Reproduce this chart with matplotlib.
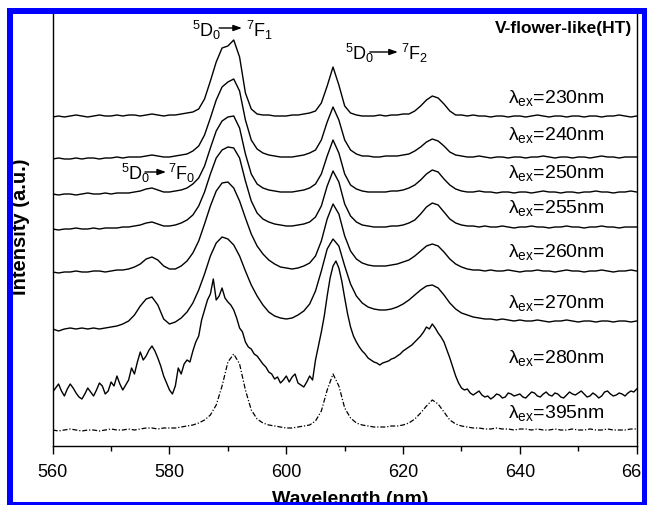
import matplotlib
matplotlib.use("Agg")
import matplotlib.pyplot as plt
from matplotlib.patches import Rectangle
from matplotlib.ticker import MultipleLocator

plt.rcParams['font.family'] = ['Liberation Sans', 'DejaVu Sans']
plt.rcParams['mathtext.fontset'] = 'custom'
plt.rcParams['mathtext.rm'] = 'Liberation Sans'
plt.rcParams['mathtext.it'] = 'Liberation Sans:italic'
plt.rcParams['mathtext.bf'] = 'Liberation Sans:bold'

# Emission spectra (a.u., stacked) sampled every 1 nm from 560 to 660 nm
wavelength = list(range(560, 661))

ex230 = [329, 330, 329, 330, 331, 330, 329, 330, 331, 330, 330, 331, 330, 331, 331, 330, 331, 332, 331, 330,
         331, 331, 332, 333, 334, 337, 347, 365, 384, 398, 400, 406, 389, 353, 337, 332, 331, 331, 330, 330,
         330, 331, 331, 332, 333, 335, 343, 360, 379, 361, 340, 333, 331, 330, 330, 330, 331, 330, 331, 331,
         332, 332, 335, 340, 346, 350, 348, 342, 335, 331, 331, 330, 331, 330, 330, 329, 330, 330, 329, 330,
         330, 329, 330, 331, 330, 329, 330, 330, 329, 330, 330, 329, 330, 330, 329, 330, 330, 331, 330, 329, 330]

ex240 = [287, 288, 287, 287, 288, 287, 288, 288, 287, 288, 288, 289, 288, 289, 289, 289, 290, 291, 290, 289,
         289, 290, 291, 292, 295, 300, 311, 328, 346, 359, 364, 367, 355, 326, 306, 297, 293, 291, 290, 289,
         289, 289, 290, 291, 293, 296, 306, 324, 339, 326, 306, 296, 292, 290, 290, 289, 289, 290, 290, 290,
         291, 292, 295, 299, 304, 307, 305, 300, 294, 291, 290, 289, 289, 290, 289, 288, 289, 289, 288, 289,
         289, 288, 289, 289, 290, 289, 288, 289, 289, 288, 289, 289, 288, 289, 290, 289, 289, 288, 289, 289, 289]

ex250 = [252, 251, 252, 252, 251, 252, 253, 252, 252, 253, 252, 253, 253, 253, 254, 255, 257, 258, 256, 254,
         254, 255, 256, 258, 262, 268, 280, 298, 315, 325, 329, 330, 318, 292, 272, 262, 258, 256, 255, 254,
         254, 254, 255, 256, 258, 262, 272, 290, 306, 293, 272, 261, 257, 255, 254, 254, 254, 254, 255, 255,
         256, 258, 261, 266, 272, 276, 274, 267, 261, 257, 255, 254, 254, 255, 254, 254, 253, 254, 254, 253,
         254, 254, 253, 254, 255, 254, 254, 253, 254, 254, 253, 254, 254, 255, 254, 254, 253, 254, 254, 255, 254]

ex255 = [217, 216, 217, 217, 218, 217, 217, 218, 217, 218, 218, 218, 219, 219, 220, 221, 223, 224, 222, 220,
         220, 221, 223, 226, 231, 240, 254, 272, 288, 296, 299, 298, 288, 265, 245, 233, 227, 224, 222, 221,
         220, 220, 221, 222, 224, 229, 240, 260, 275, 264, 242, 230, 224, 221, 220, 219, 219, 219, 220, 220,
         221, 223, 226, 232, 239, 243, 241, 234, 227, 223, 221, 220, 220, 219, 220, 219, 219, 220, 219, 218,
         219, 219, 220, 219, 219, 218, 219, 219, 220, 219, 219, 218, 219, 219, 220, 219, 219, 218, 219, 219, 219]

ex260 = [174, 173, 174, 174, 175, 174, 174, 175, 175, 174, 175, 176, 176, 177, 179, 182, 187, 189, 186, 180,
         177, 177, 180, 185, 193, 205, 222, 240, 255, 263, 264, 258, 245, 228, 212, 200, 192, 186, 182, 179,
         178, 177, 178, 180, 183, 190, 205, 227, 242, 232, 210, 195, 187, 183, 181, 180, 180, 180, 181, 182,
         184, 186, 190, 195, 200, 202, 200, 194, 187, 182, 179, 177, 176, 176, 175, 176, 175, 175, 176, 175,
         174, 175, 175, 176, 175, 175, 174, 175, 176, 175, 175, 174, 175, 175, 176, 175, 174, 175, 175, 176, 175]

ex270 = [117, 115, 117, 118, 117, 118, 117, 118, 117, 118, 119, 120, 122, 125, 131, 140, 147, 149, 141, 127,
         122, 124, 128, 134, 143, 156, 172, 190, 203, 209, 207, 201, 190, 175, 161, 150, 141, 134, 130, 128,
         127, 128, 131, 135, 142, 155, 175, 197, 207, 200, 180, 162, 150, 143, 139, 137, 136, 136, 137, 139,
         142, 146, 151, 156, 160, 161, 158, 151, 143, 137, 133, 131, 129, 128, 127, 127, 126, 127, 126, 125,
         126, 125, 125, 126, 125, 124, 125, 125, 126, 125, 124, 125, 125, 124, 125, 125, 124, 125, 125, 124, 125]

# the 280 nm spectrum is noisy, so it is kept at 0.5 nm resolution
wavelength_fine = [560 + 0.5 * i for i in range(201)]
ex280 = [54, 58, 62, 55, 50, 57, 62, 58, 53, 49,
         47, 52, 58, 54, 50, 56, 63, 60, 52, 55,
         64, 60, 70, 62, 56, 61, 66, 78, 72, 84,
         94, 86, 90, 96, 100, 95, 88, 80, 70, 63,
         56, 52, 60, 78, 72, 82, 86, 84, 95, 104,
         110, 126, 136, 146, 152, 167, 146, 150, 158, 148,
         144, 141, 136, 128, 118, 114, 104, 99, 97, 92,
         90, 86, 82, 79, 74, 72, 67, 69, 63, 66,
         70, 64, 69, 72, 63, 61, 59, 64, 70, 66,
         86, 100, 114, 130, 150, 168, 180, 185, 178, 165,
         148, 132, 119, 110, 104, 99, 95, 92, 88, 86,
         84, 83, 81, 83, 84, 85, 87, 88, 90, 92,
         95, 97, 99, 101, 104, 107, 110, 114, 119, 117,
         122, 118, 113, 109, 104, 96, 88, 79, 70, 63,
         58, 56, 57, 53, 51, 53, 55, 51, 49, 50,
         47, 49, 52, 51, 48, 49, 53, 52, 50, 51,
         52, 49, 48, 51, 54, 53, 50, 49, 52, 54,
         51, 50, 53, 52, 49, 48, 51, 54, 52, 51,
         53, 55, 52, 49, 50, 53, 51, 48, 50, 54,
         55, 52, 50, 51, 53, 52, 50, 53, 55, 54,
         57]

ex395 = [16, 15, 16, 17, 16, 15, 16, 16, 15, 16, 17, 16, 16, 17, 16, 17, 18, 18, 17, 18,
         18, 18, 19, 20, 21, 23, 26, 31, 41, 60, 84, 92, 82, 56, 36, 27, 23, 21, 20, 19,
         18, 18, 19, 20, 21, 25, 35, 56, 72, 60, 38, 28, 23, 21, 20, 19, 19, 19, 20, 20,
         21, 23, 27, 33, 40, 46, 42, 34, 26, 22, 20, 19, 18, 18, 17, 17, 18, 17, 17, 16,
         17, 17, 16, 17, 16, 16, 17, 16, 16, 17, 16, 16, 17, 16, 16, 17, 16, 16, 16, 17, 17]

solid_spectra = [(wavelength, ex230), (wavelength, ex240), (wavelength, ex250),
                 (wavelength, ex255), (wavelength, ex260), (wavelength, ex270),
                 (wavelength_fine, ex280)]
ex_labels = ['230', '240', '250', '255', '260', '270', '280', '395']
label_baselines = [344, 307, 269, 234, 190, 139, 84, 29]

W, H = 648, 506
fig = plt.figure(figsize=(W / 100, H / 100), dpi=100)
ax = fig.add_axes([52.7 / W, 59 / H, 584 / W, 436 / H])
ax.set_xlim(560, 660)
ax.set_ylim(0, 436)

for xs, ys in solid_spectra:
    ax.plot(xs, ys, color='black', lw=1.0)
ax.plot(wavelength, ex395, color='black', lw=0.9, dashes=(4, 1.5, 1, 1.5))

for lab, base in zip(ex_labels, label_baselines):
    ax.text(638, base, r'λ$_{\mathrm{ex}}$=' + lab + 'nm',
            fontsize=14, ha='left', va='baseline')

# transition labels with arrows
def transition(x_left, base, x_a0, x_a1, y_a, x_right, final):
    ax.text(x_left, base, r'$^{5}$D$_{0}$', fontsize=13, ha='left', va='baseline')
    ax.annotate('', xy=(x_a1, y_a), xytext=(x_a0, y_a),
                arrowprops=dict(arrowstyle='-|>,head_length=0.5,head_width=0.18',
                                color='black', lw=1.0, shrinkA=0, shrinkB=0))
    ax.text(x_right, base, r'$^{7}$F$_{' + final + '}$', fontsize=13, ha='left', va='baseline')

transition(583.9, 410, 588.5, 592.4, 418, 593.1, '1')
transition(610.0, 387, 614.3, 619.1, 394, 619.6, '2')
transition(571.7, 267, 575.8, 579.4, 274, 579.7, '0')

ax.text(659.2, 414, 'V-flower-like(HT)', fontsize=12.5, fontweight='bold',
        ha='right', va='baseline')

ax.spines['top'].set_visible(False)
for s in ('left', 'right', 'bottom'):
    ax.spines[s].set_linewidth(1.0)
ax.set_yticks([])
ax.xaxis.set_major_locator(MultipleLocator(20))
ax.xaxis.set_minor_locator(MultipleLocator(10))
ax.tick_params(axis='x', which='major', direction='out', length=6, width=1.0,
               labelsize=13, pad=6)
ax.tick_params(axis='x', which='minor', direction='out', length=3.5, width=1.0)

fig.text(21 / W, 1 - 227 / H, 'Intensity (a.u.)', rotation=90, fontsize=14.5,
         fontweight='bold', ha='center', va='center')
fig.text(350 / W, 1 - 500 / H, 'Wavelength (nm)', fontsize=14,
         fontweight='bold', ha='center', va='center')

# frame around the figure
def band(x0, y0, x1, y1, color):
    fig.add_artist(Rectangle((x0 / W, 1 - y1 / H), (x1 - x0) / W, (y1 - y0) / H,
                             transform=fig.transFigure, facecolor=color,
                             edgecolor='none', zorder=20))

band(0, 0, W, 9, 'white')
band(0, 0, 7, H, 'white')
band(647, 0, W, H, 'white')
blue = '#0000ff'
band(7, 9, 647, 14.5, blue)
band(7, 9, 12.7, H, blue)
band(641.7, 9, 647, H, blue)
band(7, 503, 647, H, blue)

fig.savefig('out.png', dpi=100)
